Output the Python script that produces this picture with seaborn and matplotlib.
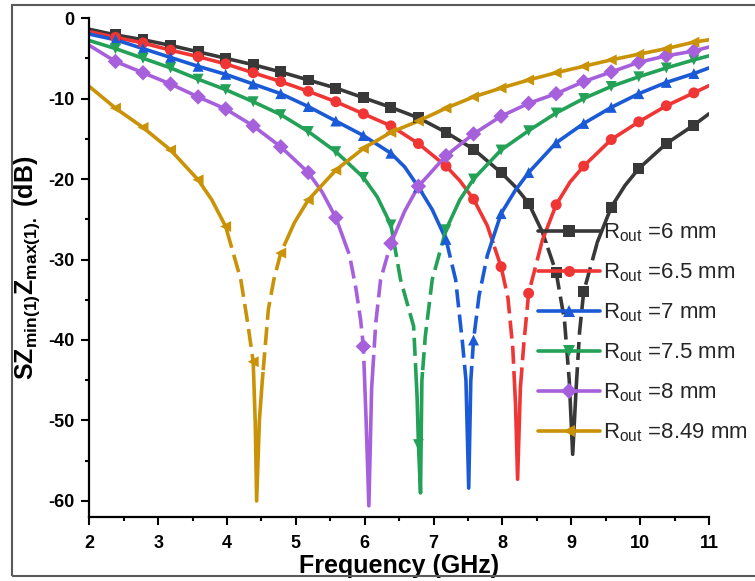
import numpy as np
import pandas as pd
import seaborn as sns
import matplotlib
matplotlib.use("Agg")
import matplotlib.pyplot as plt
from matplotlib.path import Path
from matplotlib.lines import Line2D
from matplotlib.patches import Rectangle
from matplotlib.ticker import MultipleLocator

# ---------------- data ----------------
series_names = ["6 mm", "6.5 mm", "7 mm", "7.5 mm", "8 mm", "8.49 mm"]

freq_6 = [2.0, 2.38, 2.78, 3.18, 3.58, 3.98, 4.38, 4.78, 5.18, 5.58, 5.98, 6.38, 6.78, 7.18,
          7.58, 7.98, 8.18, 8.38, 8.58, 8.78, 8.9, 8.97, 9.02, 9.07, 9.12, 9.18, 9.38, 9.58,
          9.78, 9.98, 10.38, 10.78, 11.0]
val_6 = [-1.4, -2.1, -2.7, -3.4, -4.2, -5.0, -5.8, -6.7, -7.7, -8.7, -9.9, -11.1, -12.4, -14.2,
         -16.3, -19.2, -20.9, -23.0, -26.6, -31.6, -37.5, -45.0, -54.2, -46.0, -39.0, -34.0, -27.8,
         -23.5, -20.8, -18.7, -15.6, -13.3, -11.9]

freq_65 = [2.0, 2.38, 2.78, 3.18, 3.58, 3.98, 4.38, 4.78, 5.18, 5.58, 5.98, 6.38, 6.78, 7.18,
           7.38, 7.58, 7.78, 7.98, 8.08, 8.15, 8.19, 8.22, 8.26, 8.31, 8.38, 8.58, 8.78, 8.98,
           9.18, 9.58, 9.98, 10.38, 10.78, 11.0]
val_65 = [-1.7, -2.4, -3.1, -4.0, -4.8, -5.7, -6.8, -7.9, -9.1, -10.4, -11.9, -13.4, -15.6, -18.4,
          -20.2, -22.5, -25.8, -30.9, -34.8, -41.0, -48.0, -57.3, -46.0, -40.5, -34.2, -27.6, -23.2,
          -20.4, -18.4, -15.1, -12.9, -10.9, -9.3, -8.4]

freq_7 = [2.0, 2.38, 2.78, 3.18, 3.58, 3.98, 4.38, 4.78, 5.18, 5.58, 5.98, 6.38, 6.58, 6.78,
          6.98, 7.18, 7.32, 7.42, 7.47, 7.51, 7.54, 7.58, 7.66, 7.78, 7.98, 8.18, 8.38, 8.78,
          9.18, 9.58, 9.98, 10.38, 10.78, 11.0]
val_7 = [-2.0, -2.7, -3.8, -4.9, -6.0, -7.0, -8.2, -9.4, -11.0, -12.8, -14.6, -16.8, -18.5, -21.0,
         -23.8, -27.5, -32.5, -40.4, -45.0, -58.4, -45.1, -40.0, -34.5, -29.5, -24.3, -21.5, -19.2,
         -15.5, -13.1, -11.1, -9.4, -8.0, -6.9, -6.2]

freq_75 = [2.0, 2.38, 2.78, 3.18, 3.58, 3.98, 4.38, 4.78, 5.18, 5.58, 5.98, 6.18, 6.38, 6.52,
           6.71, 6.76, 6.78, 6.81, 6.83, 6.88, 6.98, 7.18, 7.38, 7.58, 7.98, 8.38, 8.78, 9.18,
           9.58, 9.98, 10.38, 10.78, 11.0]
val_75 = [-2.8, -3.8, -5.0, -6.2, -7.6, -8.9, -10.4, -12.0, -14.1, -16.6, -19.8, -22.2, -25.7,
          -32.5, -38.3, -47.0, -53.0, -59.0, -45.0, -39.5, -32.5, -26.3, -22.6, -20.0, -16.4, -14.0,
          -11.8, -10.0, -8.5, -7.3, -6.2, -5.2, -4.7]

freq_8 = [2.0, 2.38, 2.78, 3.18, 3.58, 3.98, 4.38, 4.78, 5.18, 5.38, 5.58, 5.78, 5.87, 5.94,
          5.98, 6.02, 6.06, 6.1, 6.16, 6.23, 6.38, 6.58, 6.78, 7.18, 7.58, 7.98, 8.38, 8.78,
          9.18, 9.58, 9.98, 10.38, 10.78, 11.0]
val_8 = [-3.4, -5.4, -6.8, -8.2, -9.8, -11.3, -13.4, -16.0, -19.2, -21.6, -24.8, -29.5, -33.5,
         -37.5, -40.8, -50.0, -60.6, -46.0, -37.9, -32.5, -28.0, -24.0, -20.9, -17.1, -14.4, -12.2,
         -10.6, -9.4, -7.9, -6.7, -5.5, -4.7, -4.1, -3.6]

freq_849 = [2.0, 2.38, 2.78, 3.18, 3.58, 3.78, 3.98, 4.09, 4.2, 4.3, 4.38, 4.41, 4.43, 4.47,
            4.51, 4.6, 4.68, 4.78, 4.98, 5.18, 5.58, 5.98, 6.38, 6.78, 7.18, 7.58, 7.98, 8.38,
            8.78, 9.18, 9.58, 9.98, 10.38, 10.78, 11.0]
val_849 = [-8.5, -11.2, -13.6, -16.4, -20.1, -22.6, -25.9, -29.2, -32.5, -37.9, -42.7, -50.3,
           -60.0, -50.0, -45.3, -36.2, -32.5, -29.2, -25.4, -22.6, -18.9, -16.2, -14.2, -12.8,
           -11.2, -9.8, -8.7, -7.7, -6.8, -6.0, -5.2, -4.5, -3.8, -3.0, -2.7]

marker_freqs = [2.38, 2.78, 3.18, 3.58, 3.98, 4.38, 4.78, 5.18, 5.58, 5.98, 6.38, 6.78, 7.18,
                7.58, 7.98, 8.38, 8.78, 9.18, 9.58, 9.98, 10.38, 10.78]

x_ticks = [2, 3, 4, 5, 6, 7, 8, 9, 10, 11]
y_ticks = [-60, -50, -40, -30, -20, -10, 0]

colors = ["#383838", "#f03535", "#1a5ad7", "#22a157", "#a660dc", "#c99207"]
marker_shapes = ["s", "o", "^", "v", "D", "<"]

all_freqs = [freq_6, freq_65, freq_7, freq_75, freq_8, freq_849]
all_vals = [val_6, val_65, val_7, val_75, val_8, val_849]

rows = []
for name, fs, vs in zip(series_names, all_freqs, all_vals):
    for f, v in zip(fs, vs):
        rows.append({"freq": f, "val": v, "series": name,
                     "marker": any(abs(f - m) < 1e-6 for m in marker_freqs)})
df = pd.DataFrame(rows)

# ---------------- style ----------------
sns.set_theme(style="ticks")
plt.rcParams["font.family"] = ["Liberation Sans", "DejaVu Sans"]
plt.rcParams["font.weight"] = "bold"
plt.rcParams["axes.unicode_minus"] = False

palette = dict(zip(series_names, colors))
markers = dict(zip(series_names, marker_shapes))

fig = plt.figure(figsize=(7.55, 5.81), dpi=100)
fig.patch.set_facecolor("white")
ax = fig.add_axes([0.1183, 0.110, 0.8208, 0.859])

LW = 2.6
sns.lineplot(data=df, x="freq", y="val", hue="series", hue_order=series_names,
             palette=palette, sort=False, estimator=None, legend=False,
             linewidth=LW, ax=ax)
n_solid = len(ax.lines)
sns.lineplot(data=df, x="freq", y="val", hue="series", hue_order=series_names,
             palette=palette, sort=False, estimator=None, legend=False,
             linewidth=LW, ax=ax)
lines = ax.lines


def rect_path(y0, y1):
    return Path([(0, y0), (20, y0), (20, y1), (0, y1), (0, y0)],
                [Path.MOVETO, Path.LINETO, Path.LINETO, Path.LINETO, Path.CLOSEPOLY])


solid_clip = Path.make_compound_path(rect_path(-28, 5), rect_path(-90, -44))
dash_clip = rect_path(-44, -28)

for i, ln in enumerate(lines):
    if i < n_solid:
        ln.set_clip_path(solid_clip, ax.transData)
        ln.set_solid_capstyle("round")
    else:
        ln.set_linestyle((0, (5, 2)))
        ln.set_clip_path(dash_clip, ax.transData)

sns.scatterplot(data=df[df["marker"]], x="freq", y="val", hue="series", style="series",
                hue_order=series_names, style_order=series_names, palette=palette,
                markers=markers, s=62, linewidth=0, legend=False, ax=ax, zorder=3)

ax.set_xlim(2, 11)
ax.set_ylim(-62, 0)
ax.set_xticks(x_ticks)
ax.set_yticks(y_ticks)
ax.xaxis.set_minor_locator(MultipleLocator(0.5))
ax.yaxis.set_minor_locator(MultipleLocator(5))
sns.despine(ax=ax)
for side in ["left", "bottom"]:
    ax.spines[side].set_linewidth(1.6)
    ax.spines[side].set_color("black")
ax.tick_params(axis="both", which="major", direction="out", length=6, width=1.5,
               color="black", labelsize=13, labelcolor="black")
ax.tick_params(axis="both", which="minor", direction="out", length=3, width=1.5, color="black")
ax.tick_params(axis="x", which="major", pad=7)
ax.tick_params(axis="y", which="major", pad=5)
for lbl in ax.get_xticklabels() + ax.get_yticklabels():
    lbl.set_fontweight("bold")

ax.set_xlabel("Frequency (GHz)", fontsize=18, fontweight="bold", color="black")
ax.set_ylabel(r"SZ$_{\mathregular{min(1)}}$Z$_{\mathregular{max(1).}}$ (dB)",
              fontsize=18, fontweight="bold", color="black")
ax.xaxis.set_label_coords(0.5, -0.073)
ax.yaxis.set_label_coords(-0.076, 0.5)

handles = [Line2D([], [], color=c, lw=LW, marker=m, markersize=8, markeredgewidth=0)
           for c, m in zip(colors, marker_shapes)]
labels = [r"R$_{\mathregular{out}}$ =" + n for n in series_names]
ax.legend(handles, labels, loc="upper left", bbox_to_anchor=(0.7237, 0.592),
          frameon=False, handlelength=2.8, handletextpad=0.15, labelspacing=0.78,
          borderaxespad=0, borderpad=0, prop={"size": 16, "weight": "normal"})

fig.add_artist(Rectangle((12 / 755, 5 / 581), 1.2, 571 / 581, transform=fig.transFigure,
                         fill=False, edgecolor="#5a5a5a", linewidth=1.5))

fig.savefig("out.png", dpi=100, facecolor="white")
